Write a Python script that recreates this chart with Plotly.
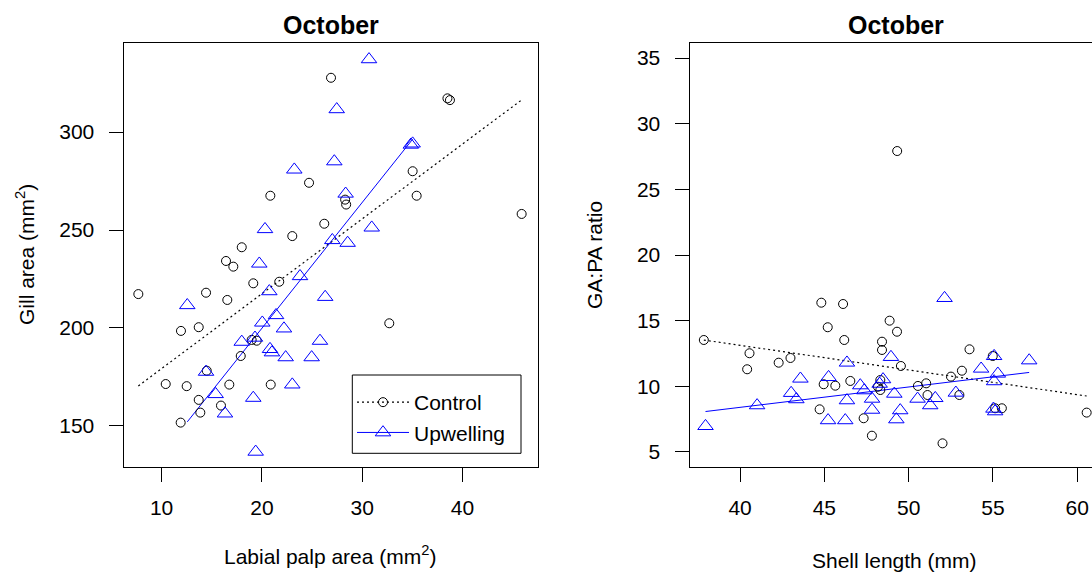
import numpy as np
import plotly.graph_objects as go

# ---------------- data ----------------
# Left panel: Gill area vs Labial palp area
ctrl_palp = [26.89, 38.50, 38.75, 24.70, 20.84, 35.03, 35.43, 45.90, 28.30, 28.40,
             26.22, 23.03, 17.99, 16.42, 17.15, 19.14, 21.73, 7.68, 14.43, 16.55,
             11.93, 13.70, 32.70, 18.98, 19.48, 17.89, 14.50, 10.41, 12.50, 16.75,
             20.88, 13.70, 15.92, 13.86, 11.90]
ctrl_gill = [327.7, 317.2, 316.3, 274.1, 267.5, 280.0, 267.5, 258.2, 265.5, 263.0,
             253.2, 246.9, 241.2, 234.2, 231.3, 222.8, 223.6, 217.3, 218.0, 214.3,
             198.5, 200.4, 202.4, 193.9, 193.5, 185.7, 178.2, 171.4, 170.3, 171.1,
             171.1, 163.3, 160.4, 156.8, 151.7]

upw_palp = [30.68, 27.46, 35.03, 34.85, 27.22, 23.23, 28.35, 20.31, 30.95, 27.02,
            28.55, 19.74, 23.80, 20.74, 26.31, 12.56, 21.41, 20.04, 22.20, 25.79,
            17.99, 19.31, 20.81, 21.00, 22.37, 24.96, 14.43, 23.03, 15.39, 19.14,
            16.32, 19.38]
upw_gill = [337.1, 311.6, 294.1, 293.5, 285.0, 280.8, 268.5, 250.4, 251.2, 244.8,
            243.4, 232.8, 226.4, 218.7, 215.8, 211.6, 206.5, 202.7, 199.7, 193.4,
            192.9, 195.0, 189.2, 187.5, 185.0, 185.0, 177.6, 171.1, 166.2, 164.3,
            156.3, 136.8]

# Right panel: GA:PA ratio vs Shell length
ctrl_shell = [49.32, 44.82, 46.11, 48.87, 49.31, 45.20, 46.18, 37.85, 48.42, 48.42,
              40.56, 40.42, 42.29, 42.99, 49.54, 53.61, 54.99, 53.16, 52.51, 46.54,
              44.96, 45.65, 48.32, 48.18, 48.32, 50.55, 51.04, 51.12, 53.01, 44.72,
              47.33, 47.82, 52.01, 55.53, 55.13, 60.56]
ctrl_ratio = [27.92, 16.37, 16.27, 15.00, 14.16, 14.50, 13.53, 13.53, 13.40, 12.77,
              12.52, 11.30, 11.80, 12.16, 11.55, 12.82, 12.31, 11.19, 10.74, 10.41,
              10.16, 10.05, 10.48, 9.97, 9.72, 10.03, 10.23, 9.34, 9.34, 8.25,
              7.57, 6.24, 5.66, 8.33, 8.33, 8.00]

upw_shell = [52.13, 48.95, 46.34, 55.07, 57.15, 54.30, 55.29, 55.07, 43.58, 45.25,
             48.48, 47.13, 47.37, 48.28, 49.15, 47.83, 50.53, 51.58, 52.80, 43.03,
             43.34, 46.34, 51.28, 41.01, 47.83, 49.50, 49.27, 45.22, 46.24, 37.95,
             55.03, 55.13]
upw_ratio = [16.72, 12.23, 11.80, 12.30, 11.97, 11.34, 10.96, 10.38, 10.58, 10.70,
             10.53, 10.07, 9.69, 10.19, 9.43, 9.05, 9.05, 9.10, 9.51, 9.49,
             9.01, 8.93, 8.55, 8.55, 8.21, 8.17, 7.48, 7.41, 7.41, 6.97,
             8.29, 8.09]

# Fitted regression lines (intercept, slope)
fit_left_ctrl = (141.06, 3.82)
fit_left_upw = (71.45, 6.42)
fit_right_ctrl = (20.63, -0.1877)
fit_right_upw = (2.20, 0.155)

series_names = ["Control", "Upwelling"]
left_xticks = [10, 20, 30, 40]
left_yticks = [150, 200, 250, 300]
right_xticks = [40, 45, 50, 55, 60]
right_yticks = [5, 10, 15, 20, 25, 30, 35]

# ---------------- figure ----------------
W, H = 1092, 572
FONT = "Liberation Sans, Arial, sans-serif"
BLUE = "#0000FF"


def fit_xy(xs, coef):
    x = np.array([min(xs), max(xs)])
    return x, coef[0] + coef[1] * x


fig = go.Figure()

circ = dict(symbol="circle-open", size=9, color="black", line=dict(width=1, color="black"))
tri = dict(symbol="triangle-up-open", size=13.5, color=BLUE, line=dict(width=1, color=BLUE))
dotted = dict(color="black", width=1.2, dash="2px,3px")

# left panel
x, y = fit_xy(ctrl_palp, fit_left_ctrl)
fig.add_trace(go.Scatter(x=x, y=y, mode="lines", line=dotted,
                         showlegend=False, xaxis="x", yaxis="y", hoverinfo="skip"))
x, y = fit_xy(upw_palp, fit_left_upw)
fig.add_trace(go.Scatter(x=x, y=y, mode="lines", line=dict(color=BLUE, width=1),
                         showlegend=False, xaxis="x", yaxis="y", hoverinfo="skip"))
fig.add_trace(go.Scatter(x=ctrl_palp, y=ctrl_gill, mode="markers", marker=circ, showlegend=False,
                         xaxis="x", yaxis="y", cliponaxis=False))
fig.add_trace(go.Scatter(x=upw_palp, y=upw_gill, mode="markers", marker=tri, showlegend=False,
                         xaxis="x", yaxis="y", cliponaxis=False))
# legend entries
fig.add_trace(go.Scatter(x=[None], y=[None], mode="lines+markers", name=series_names[0],
                         line=dotted, marker=circ, xaxis="x", yaxis="y"))
fig.add_trace(go.Scatter(x=[None], y=[None], mode="lines+markers", name=series_names[1],
                         line=dict(color=BLUE, width=1), marker=tri, xaxis="x", yaxis="y"))

# right panel
x, y = fit_xy(ctrl_shell, fit_right_ctrl)
fig.add_trace(go.Scatter(x=x, y=y, mode="lines", line=dotted,
                         showlegend=False, xaxis="x2", yaxis="y2", hoverinfo="skip"))
x, y = fit_xy(upw_shell, fit_right_upw)
fig.add_trace(go.Scatter(x=x, y=y, mode="lines", line=dict(color=BLUE, width=1),
                         showlegend=False, xaxis="x2", yaxis="y2", hoverinfo="skip"))
fig.add_trace(go.Scatter(x=ctrl_shell, y=ctrl_ratio, mode="markers", marker=circ, showlegend=False,
                         xaxis="x2", yaxis="y2", cliponaxis=False))
fig.add_trace(go.Scatter(x=upw_shell, y=upw_ratio, mode="markers", marker=tri, showlegend=False,
                         xaxis="x2", yaxis="y2", cliponaxis=False))

tickfont = dict(family=FONT, size=21, color="black")
common = dict(showgrid=False, zeroline=False, ticks="outside", ticklen=14, tickwidth=1,
              tickcolor="black", linecolor="black", linewidth=1, showline=True,
              tickfont=tickfont)

box_top = 42.7
box_bot = 466.7
ydom = [(H - box_bot) / H, (H - box_top) / H]

fig.update_layout(
    width=W, height=H, autosize=False,
    margin=dict(l=0, r=0, t=0, b=0, pad=0),
    paper_bgcolor="white", plot_bgcolor="white",
    font=dict(family=FONT, color="black"),
    xaxis=dict(domain=[123.5 / W, 537.5 / W], range=[6.20, 47.48], tickvals=left_xticks,
               mirror=True, ticklabelstandoff=8, **common),
    yaxis=dict(domain=ydom, range=[129.2, 345.6], tickvals=left_yticks, mirror=True,
               ticklabelstandoff=10, **common),
    xaxis2=dict(domain=[689.5 / W, 1.0], range=[37.0, 60.877], tickvals=right_xticks,
                anchor="y2", mirror=True, ticklabelstandoff=8, **common),
    yaxis2=dict(domain=ydom, range=[3.88, 36.17], tickvals=right_yticks, anchor="x2",
                mirror=False, ticklabelstandoff=10, **common),
    showlegend=True,
    legend=dict(x=352 / W, y=(H - 382) / H, xanchor="left", yanchor="top",
                bgcolor="rgba(0,0,0,0)", borderwidth=0, itemwidth=52,
                font=dict(family=FONT, size=21, color="black"), tracegroupgap=0),
)

# legend box
fig.add_shape(type="rect", xref="paper", yref="paper",
              x0=352.3 / W, x1=521 / W, y0=(H - 453.3) / H, y1=(H - 375) / H,
              line=dict(color="black", width=1), fillcolor="rgba(0,0,0,0)")

ann = []
for cx, txt in [(330.5, "<b>October</b>"), (895.5, "<b>October</b>")]:
    ann.append(dict(x=cx / W, y=(H - 25) / H, xref="paper", yref="paper", text=txt,
                    showarrow=False, xanchor="center", yanchor="middle",
                    font=dict(family=FONT, size=25, color="black")))
ann.append(dict(x=329.5 / W, y=(H - 555) / H, xref="paper", yref="paper",
                text="Labial palp area (mm<sup>2</sup>)", showarrow=False,
                xanchor="center", yanchor="middle", font=dict(family=FONT, size=21, color="black")))
ann.append(dict(x=894 / W, y=(H - 560) / H, xref="paper", yref="paper",
                text="Shell length (mm)", showarrow=False,
                xanchor="center", yanchor="middle", font=dict(family=FONT, size=21, color="black")))
ann.append(dict(x=25 / W, y=(H - 255) / H, xref="paper", yref="paper",
                text="Gill area (mm<sup>2</sup>)", showarrow=False, textangle=-90,
                xanchor="center", yanchor="middle", font=dict(family=FONT, size=21, color="black")))
ann.append(dict(x=594 / W, y=(H - 255) / H, xref="paper", yref="paper",
                text="GA:PA ratio", showarrow=False, textangle=-90,
                xanchor="center", yanchor="middle", font=dict(family=FONT, size=21, color="black")))
fig.update_layout(annotations=ann)

fig.write_html("out.html", config={"displayModeBar": False},
               post_script="document.body.style.margin='0';document.body.style.overflow='hidden';")
